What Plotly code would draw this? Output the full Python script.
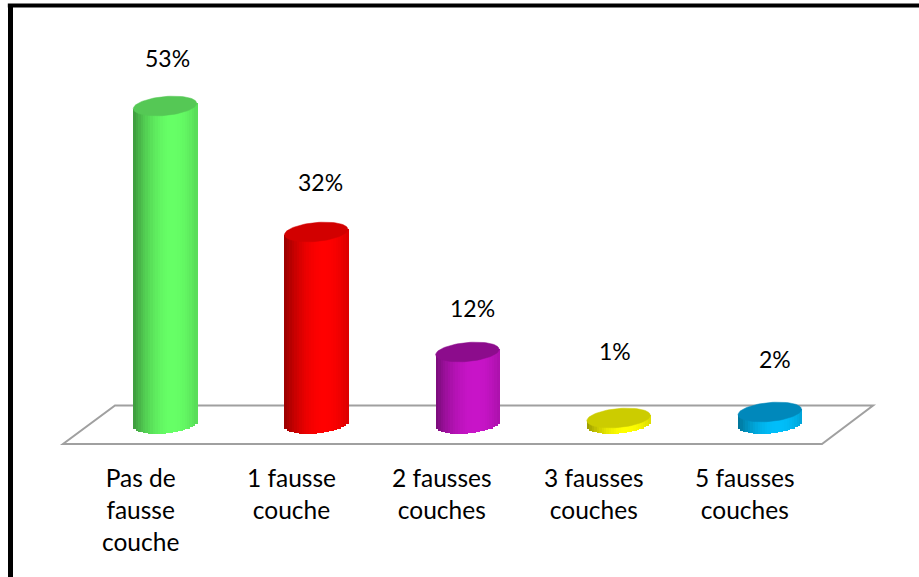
import math
import plotly.graph_objects as go

# --- data -------------------------------------------------------------
categories = ["Pas de<br>fausse<br>couche", "1 fausse<br>couche",
              "2 fausses<br>couches", "3 fausses<br>couches",
              "5 fausses<br>couches"]
values = [53, 32, 12, 1, 2]
value_labels = ["53%", "32%", "12%", "1%", "2%"]

# --- style ------------------------------------------------------------
body_colors = [(102, 255, 102), (255, 0, 0), (200, 20, 200),
               (255, 255, 0), (0, 190, 250)]
top_colors = ["#55c855", "#d20000", "#8c0c8c", "#cccc00", "#0088bb"]
label_dx = [2, 4, 5, -4, 5]        # px
label_dy = [48, 50, 44, 67, 53]    # px above top ellipse centre
FONT = "Lato"

half_w = 0.21      # half bar width (x units)
ell_h = 1.58       # half height of ellipse (value units)
tilt = 0.45        # right side of ellipse sits higher
n_strips = 26

xs = list(range(len(values)))


def shade(rgb, t):
    # t in [-1, 1] across the cylinder: dark left edge, bright centre
    s = 1 - 0.40 * ((t - 0.25) / 1.25) ** 2
    return "rgb({},{},{})".format(*[int(round(c * s)) for c in rgb])


fig = go.Figure()

# cylinder bodies built as thin overlaid strips (gives the shading)
sw = 2 * half_w / n_strips
for k in range(n_strips):
    tc = -1 + (k + 0.5) * 2 / n_strips
    bases = [-ell_h * math.sqrt(1 - tc ** 2) + tilt * tc for _ in values]
    tops = [v + tilt * tc for v in values]
    fig.add_trace(go.Bar(
        x=xs,
        y=[t - b for t, b in zip(tops, bases)],
        base=bases,
        width=sw * 1.35,
        offset=-half_w + k * sw,
        marker=dict(color=[shade(c, tc) for c in body_colors],
                    line=dict(width=0)),
        showlegend=False,
        hoverinfo="skip"))

# top ellipses
theta = [2 * math.pi * i / 80 for i in range(81)]
for x, v, col in zip(xs, values, top_colors):
    fig.add_trace(go.Scatter(
        x=[x + half_w * math.cos(a) for a in theta],
        y=[v + tilt * math.cos(a) + ell_h * math.sin(a) for a in theta],
        mode="lines", fill="toself", fillcolor=col,
        line=dict(color=col, width=0.5),
        showlegend=False, hoverinfo="skip"))

# value labels
for x, v, lab, dx, dy in zip(xs, values, value_labels, label_dx, label_dy):
    fig.add_annotation(x=x, y=v, text=lab, showarrow=False,
                       xshift=dx, yshift=dy,
                       font=dict(family=FONT, size=23, color="black"))

# category labels (aligned with the front edge of the floor)
for x, cat in zip(xs, categories):
    fig.add_annotation(x=x, y=-6.2, text=cat, showarrow=False,
                       xshift=-25, yanchor="top", align="center",
                       font=dict(family=FONT, size=24.5, color="black"))

# floor of the 3D plot
fig.add_shape(type="path", xref="x", yref="y", layer="below",
              path="M -0.6746 -3.333 L 4.345 -3.333 L 4.683 3.083 "
                   "L -0.3307 3.083 Z",
              line=dict(color="#a0a0a0", width=2), fillcolor="white")

# outer frame (top and left visible)
fig.add_shape(type="line", xref="paper", yref="paper",
              x0=0.0085, x1=1.0, y0=1 - 5.5 / 577, y1=1 - 5.5 / 577,
              line=dict(color="black", width=4))
fig.add_shape(type="line", xref="paper", yref="paper",
              x0=10.5 / 919, x1=10.5 / 919, y0=0, y1=1 - 4 / 577,
              line=dict(color="black", width=5))

fig.update_layout(
    width=919, height=577,
    margin=dict(l=0, r=0, t=0, b=0),
    paper_bgcolor="white", plot_bgcolor="white",
    barmode="overlay", bargap=0,
    xaxis=dict(range=[-165 / 151.2, (919 - 165) / 151.2], visible=False,
               fixedrange=True),
    yaxis=dict(range=[-25.5, 424 / 6], visible=False, fixedrange=True),
    font=dict(family=FONT),
)

# drop the browser's default page margin so the chart fills the window
fig.write_html("out.html",
               config={"displayModeBar": False},
               post_script="document.body.style.margin='0';"
                           "document.body.style.overflow='hidden';")
